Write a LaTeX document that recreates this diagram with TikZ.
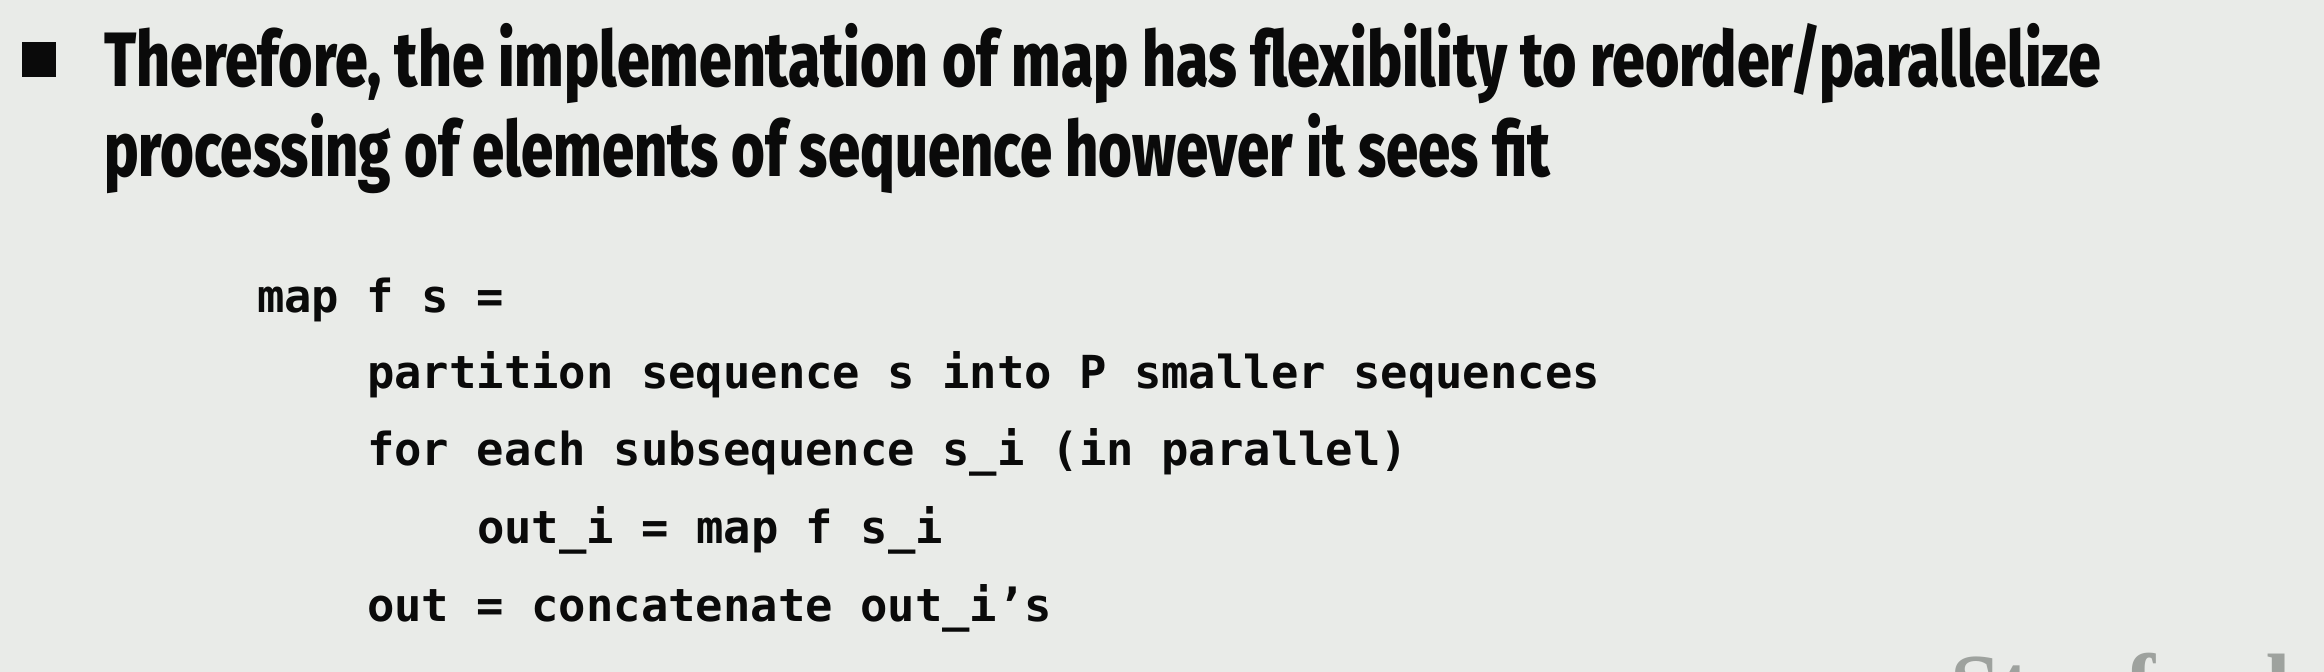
\documentclass[tikz,border=0pt]{standalone}
\usepackage{fontspec}
\usepackage{graphicx}
\newfontfamily\titlefont{Fira Sans}[UprightFont=* ExtraBold]
\newfontfamily\codefont{DejaVu Sans Mono}[UprightFont=* Bold]
\newfontfamily\logofont{Liberation Serif}[UprightFont=* Bold]
\definecolor{slidebg}{RGB}{233,235,232}
\definecolor{ink}{RGB}{10,10,10}
\definecolor{logogray}{RGB}{158,162,158}
\newcommand\fitline[2]{\resizebox{#1}{\height}{#2}}
\tikzset{
  titletext/.style={anchor=base west, inner sep=0pt, text=ink, font=\titlefont\fontsize{77}{90}\selectfont},
  codetext/.style={anchor=base west, inner sep=0pt, text=ink, font=\codefont\fontsize{45.5}{77}\selectfont},
  logotext/.style={anchor=base west, inner sep=0pt, text=logogray, font=\logofont\fontsize{90}{100}\selectfont},
}
\begin{document}
\begin{tikzpicture}[x=1pt,y=-1pt]
\useasboundingbox (0,0) rectangle (2324,672);
\clip (0,0) rectangle (2324,672);
\fill[slidebg] (0,0) rectangle (2324,672);
% bullet
\fill[ink] (22,42) rectangle (56,77);
\node[titletext] (t1) at (104,86) {\fitline{1997pt}{Therefore, the implementation of map has flexibility to reorder/parallelize}};
\node[titletext] (t2) at (104,176) {\fitline{1446pt}{processing of elements of sequence however it sees fit}};
% code
\node[codetext] (c1) at (257,312) {map f s =};
\node[codetext] (c2) at (367,388) {partition sequence s into P smaller sequences};
\node[codetext] (c3) at (367,465) {for each subsequence s\_i (in parallel)};
\node[codetext] (c4) at (477,543) {out\_i = map f s\_i};
\node[codetext] (c5) at (367,621) {out = concatenate out\_i’s};
% logo (cut off)
\node[logotext] (logo) at (1950,716) {Stanford};
\end{tikzpicture}
\end{document}
